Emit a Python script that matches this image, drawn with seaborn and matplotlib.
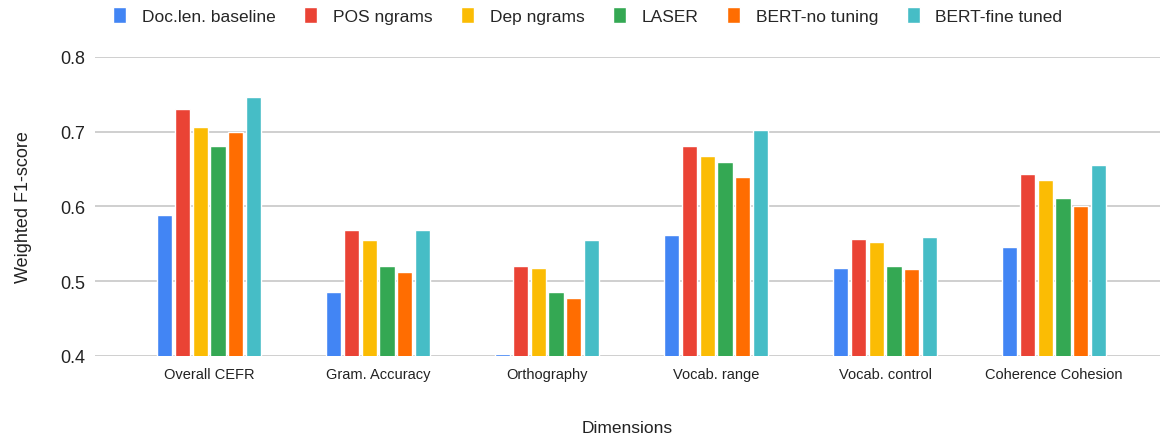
import pandas as pd
import seaborn as sb
import matplotlib.pyplot as plt

dimensions = ['Overall CEFR', 'Gram. Accuracy', 'Orthography',
              'Vocab. range', 'Vocab. control', 'Coherence Cohesion']
models = ['Doc.len. baseline', 'POS ngrams', 'Dep ngrams', 'LASER',
          'BERT-no tuning', 'BERT-fine tuned']

doc_len = [0.588, 0.486, 0.402, 0.562, 0.518, 0.546]
pos_ngrams = [0.730, 0.568, 0.520, 0.681, 0.557, 0.644]
dep_ngrams = [0.706, 0.555, 0.518, 0.668, 0.553, 0.635]
laser = [0.681, 0.520, 0.485, 0.660, 0.520, 0.612]
bert_no_tuning = [0.700, 0.512, 0.477, 0.640, 0.516, 0.600]
bert_fine_tuned = [0.746, 0.568, 0.555, 0.702, 0.559, 0.655]

colors = ['#4285F4', '#EA4335', '#FBBC04', '#34A853', '#FF6D01', '#46BDC6']

series = [doc_len, pos_ngrams, dep_ngrams, laser, bert_no_tuning, bert_fine_tuned]
rows = []
for model, vals in zip(models, series):
    for dim, v in zip(dimensions, vals):
        rows.append({'Dimensions': dim, 'Model': model, 'score': v})
df = pd.DataFrame(rows)

sb.set_style('white')
plt.rcParams['font.family'] = ['Liberation Sans', 'DejaVu Sans']

fig = plt.figure(figsize=(11.66, 4.39), dpi=100)
ax = fig.add_axes([0.0815, 0.1868, 0.9134, 0.6811])

sb.barplot(data=df, x='Dimensions', y='score', hue='Model', palette=colors,
           saturation=1, width=0.63, gap=0.15, ax=ax, legend=True, zorder=3)

ax.set_ylim(0.4, 0.8)
ax.set_yticks([0.4, 0.5, 0.6, 0.7, 0.8])
ax.set_yticklabels(['0.4', '0.5', '0.6', '0.7', '0.8'])
ax.set_xlim(-0.675, 5.627)
ax.grid(axis='y', color='#cccccc', linewidth=1.3, zorder=0)
ax.set_axisbelow(True)
for s in ax.spines.values():
    s.set_visible(False)
ax.tick_params(axis='y', length=0, pad=7, labelsize=13, colors='#222222')
ax.tick_params(axis='x', length=0, pad=8, labelsize=10.5, colors='#222222')
ax.set_xlabel('Dimensions', fontsize=12.5, labelpad=28, color='#222222')
ax.set_ylabel('Weighted F1-score', fontsize=13, labelpad=20, color='#222222')

ax.get_legend().remove()
handles, labels = ax.get_legend_handles_labels()
fig.legend(handles, labels, loc='upper center', bbox_to_anchor=(0.504, 1.018),
           ncol=6, frameon=False, fontsize=12.5, handlelength=0.75,
           handleheight=1.1, handletextpad=0.9, columnspacing=1.65)

fig.savefig('out.png', dpi=100)
